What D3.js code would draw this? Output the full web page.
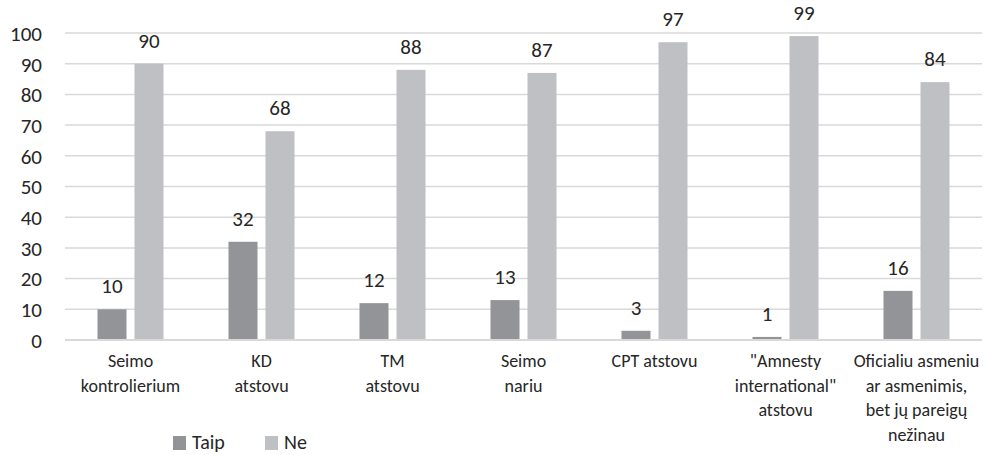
<!DOCTYPE html>
<html>
<head>
<meta charset="utf-8">
<script src="https://cdn.jsdelivr.net/npm/d3@7"></script>
<style>
  html, body { margin: 0; padding: 0; background: #fff; }
  svg { display: block; font-family: Carlito, Calibri, Lato, sans-serif; }
</style>
</head>
<body>
<svg id="chart" width="986" height="455"></svg>
<script>
const categories = [
  ["Seimo", "kontrolierium"],
  ["KD", "atstovu"],
  ["TM", "atstovu"],
  ["Seimo", "nariu"],
  ["CPT atstovu"],
  ["\"Amnesty", "international\"", "atstovu"],
  ["Oficialiu asmeniu", "ar asmenimis,", "bet jų pareigų", "nežinau"]
];
const seriesNames = ["Taip", "Ne"];
const taip = [10, 32, 12, 13, 3, 1, 16];
const ne = [90, 68, 88, 87, 97, 99, 84];
const yTicks = [0, 10, 20, 30, 40, 50, 60, 70, 80, 90, 100];
const colors = { Taip: "#939497", Ne: "#bfc0c3" };

(function() {
const svg = d3.select("#chart");
const mLeft = 65, mRight = 982, mTop = 33, mBottom = 340;
const catKeys = categories.map((c, i) => i);
const FONT = "Carlito, Calibri, Lato, sans-serif";

const x = d3.scaleBand().domain(catKeys).range([mLeft, mRight]).padding(0);
const xs = d3.scaleBand().domain(seriesNames).range([0, x.bandwidth()])
  .paddingInner(8 / 37).paddingOuter(0.878);
const y = d3.scaleLinear().domain([0, 100]).range([mBottom, mTop]);

// gridlines
svg.append("g").selectAll("line").data(yTicks.filter(d => d > 0)).join("line")
  .attr("x1", mLeft).attr("x2", mRight)
  .attr("y1", d => y(d)).attr("y2", d => y(d))
  .attr("stroke", "#d9d9d9").attr("stroke-width", 1.5);

// y axis labels
const yAxis = d3.axisLeft(y).tickValues(yTicks).tickSize(0).tickPadding(0);
const gy = svg.append("g").attr("transform", "translate(42,0)").call(yAxis);
gy.select(".domain").remove();
gy.selectAll("text").attr("font-size", 21).attr("fill", "#262626")
  .attr("font-family", FONT).attr("dy", "0.35em");

// bars
const rows = catKeys.map(i => ({ i, Taip: taip[i], Ne: ne[i] }));
const groups = svg.append("g").selectAll("g").data(rows).join("g")
  .attr("transform", d => `translate(${x(d.i)},0)`);
groups.selectAll("rect").data(d => seriesNames.map(s => ({ s, v: d[s] }))).join("rect")
  .attr("x", d => xs(d.s)).attr("width", xs.bandwidth())
  .attr("y", d => y(d.v)).attr("height", d => y(0) - y(d.v))
  .attr("fill", d => colors[d.s]);
groups.selectAll("text").data(d => seriesNames.map(s => ({ s, v: d[s] }))).join("text")
  .attr("x", d => xs(d.s) + xs.bandwidth() / 2)
  .attr("y", d => y(d.v) - 16)
  .attr("text-anchor", "middle").attr("font-size", 21).attr("fill", "#262626")
  .text(d => d.v);

// x axis line
svg.append("line").attr("x1", mLeft).attr("x2", mRight)
  .attr("y1", y(0)).attr("y2", y(0))
  .attr("stroke", "#d9d9d9").attr("stroke-width", 2);

// category labels
const xAxis = d3.axisBottom(x).tickSize(0).tickFormat("");
const gx = svg.append("g").attr("transform", `translate(0,${mBottom})`).call(xAxis);
gx.select(".domain").remove();
gx.selectAll(".tick").each(function(d) {
  const t = d3.select(this).append("text")
    .attr("text-anchor", "middle").attr("font-size", 18).attr("fill", "#262626")
    .attr("font-family", FONT)
    .attr("y", 27);
  categories[d].forEach((line, k) => {
    t.append("tspan").attr("x", 0).attr("dy", k === 0 ? 0 : 24.5).text(line);
  });
});

// legend
const legend = svg.append("g");
const legendX = [173, 265];
seriesNames.forEach((s, k) => {
  legend.append("rect").attr("x", legendX[k]).attr("y", 436).attr("width", 13).attr("height", 14)
    .attr("fill", colors[s]);
  legend.append("text").attr("x", legendX[k] + 19).attr("y", 449)
    .attr("font-size", 20).attr("fill", "#262626").text(s);
});
})();
</script>
</body>
</html>
